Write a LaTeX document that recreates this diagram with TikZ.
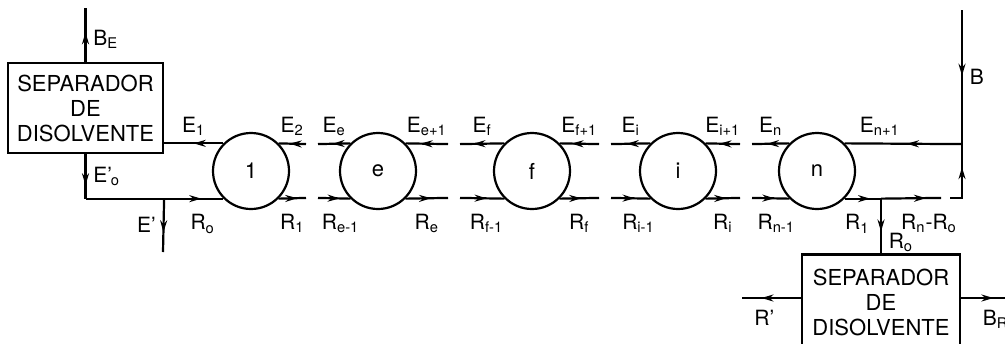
\documentclass[tikz,border=0pt]{standalone}
\usepackage{fontspec}
\setmainfont{TeX Gyre Heros}
\usepackage{tikz}
\usetikzlibrary{arrows.meta, positioning, decorations.markings}

\begin{document}
\begin{tikzpicture}[x=0.5pt, y=-0.5pt, line width=1.1pt, >={Stealth[length=6pt,width=3.5pt]}, node distance=63.5pt,
            font=\fontsize{10.5}{12}\selectfont,
            etage/.style={draw, circle, minimum size=38pt, inner sep=0pt, font=\fontsize{11}{13}\selectfont},
            separador/.style={draw, align=center, inner sep=0pt, minimum width=77.5pt, minimum height=45pt,
                              font=\fontsize{11}{12.5}\selectfont},
            fleche/.style={postaction={decorate}, decoration={markings, mark=at position #1 with {\arrow{>}}}},
            fleche/.default=.6]

            \useasboundingbox (0,0) rectangle (1005,343);

            % Etages placés avec des positions relatives
            \node[etage] (1) at (251,171) {1};
            \node[etage, right of=1] (e) {e};
            \node[etage, right of=e, node distance=77pt] (f) {f};
            \node[etage, right of=f, node distance=73pt] (i) {i};
            \node[etage, right of=i, node distance=69.5pt] (n) {n};

            % Séparateurs
            \node[separador] (sepE) at (85.5,108) {SEPARADOR\\DE\\DISOLVENTE};
            \node[separador, minimum width=79pt, minimum height=47.5pt] (sepR) at (881,302) {SEPARADOR\\DE\\DISOLVENTE};

            % Bouts libres des lignes coupées
            \foreach \g/\x in {a/312,b/454,c/605,d/746} {
                \coordinate (\g1) at (\x-6,144.1);
                \coordinate (\g2) at (\x+6,144.1);
                \coordinate (\g3) at (\x-6,197.9);
                \coordinate (\g4) at (\x+6,197.9);
            }
            \coordinate (coinE) at (sepE.south |- 1.south west);
            \coordinate (jEp) at (sepE.east |- 1.south west);
            \coordinate (Ep) at (163,252);
            \coordinate (BE) at (85.5,8);
            \coordinate (jR) at (sepR.north |- n.south east);
            \coordinate (g1) at (941,197.9);
            \coordinate (g2) at (950,197.9);
            \coordinate (coinR) at (962,197.9);
            \coordinate (jE) at (962,144.1);
            \coordinate (B) at (962,10);
            \coordinate (Rp) at (742,298);
            \coordinate (BR) at (1015,298);

            % Extrait (de droite à gauche)
            \draw[fleche=.5] (1.north west) -- node[above] {E\textsubscript{1}} (sepE.east |- 1.north west);
            \draw[fleche] (a1) -- node[above] {E\textsubscript{2}} (1.north east);
            \draw[fleche=.55] (e.north west) -- node[above] {E\textsubscript{e}} (a2);
            \draw[fleche=.65] (b1) -- node[above] {E\textsubscript{e+1}} (e.north east);
            \draw[fleche=.7] (f.north west) -- node[above] {E\textsubscript{f}} (b2);
            \draw[fleche=.7] (c1) -- node[above] {E\textsubscript{f+1}} (f.north east);
            \draw[fleche] (i.north west) -- node[above] {E\textsubscript{i}} (c2);
            \draw[fleche] (d1) -- node[above] {E\textsubscript{i+1}} (i.north east);
            \draw[fleche] (n.north west) -- node[above] {E\textsubscript{n}} (d2);
            \draw[fleche=.47] (jE) -- node[above, pos=.7] {E\textsubscript{n+1}} (n.north east);
            \draw[fleche=.7] (sepE.south) -- node[right] {E’\hspace{-0.5pt}\textsubscript{o}} (coinE);
            \draw[fleche=.55] (sepE.north) -- node[right, pos=.42] {B\textsubscript{E}} (BE);
            \draw[fleche=.63] (jEp) -- node[left] {E’} (Ep);
            \draw[fleche=.49] (B) -- node[right] {B} (jE);

            % Raffinat (de gauche à droite)
            \draw[fleche=.84] (coinE) -- node[below=4pt, pos=.85] {R\textsubscript{o}} (1.south west);
            \draw[fleche=.68] (1.south east) -- node[below=4pt] {R\textsubscript{1}} (a3);
            \draw[fleche=.67] (a4) -- node[below=4pt, pos=.7] {R\textsubscript{e-1}} (e.south west);
            \draw[fleche] (e.south east) -- node[below=4pt] {R\textsubscript{e}} (b3);
            \draw[fleche] (b4) -- node[below=4pt, pos=.6] {R\textsubscript{f-1}} (f.south west);
            \draw[fleche=.55] (f.south east) -- node[below=4pt] {R\textsubscript{f}} (c3);
            \draw[fleche] (c4) -- node[below=4pt, pos=.7] {R\textsubscript{i-1}} (i.south west);
            \draw[fleche] (i.south east) -- node[below=4pt] {R\textsubscript{i}} (d3);
            \draw[fleche] (d4) -- node[below=4pt, pos=.65] {R\textsubscript{n-1}} (n.south west);
            \draw[fleche=.7] (n.south east) -- node[below=4pt, pos=.35] {R\textsubscript{1}} (jR);
            \draw[fleche=.75] (jR) -- node[below=4pt, pos=.8] {R\textsubscript{n}-R\textsubscript{o}} (g1);
            \draw[fleche=.65] (g2) -- (coinR) -- (jE);
            \draw[fleche=.6] (jR) -- node[right, pos=.8] {R\textsubscript{o}} (sepR.north);
            \draw[fleche=.67] (sepR.west |- Rp) -- node[below=2pt, pos=.62] {R’} (Rp);
            \draw[fleche=.6] (sepR.east |- Rp) -- node[below=2pt, pos=.64] {B\textsubscript{R}} (BR);

\end{tikzpicture}
\end{document}
